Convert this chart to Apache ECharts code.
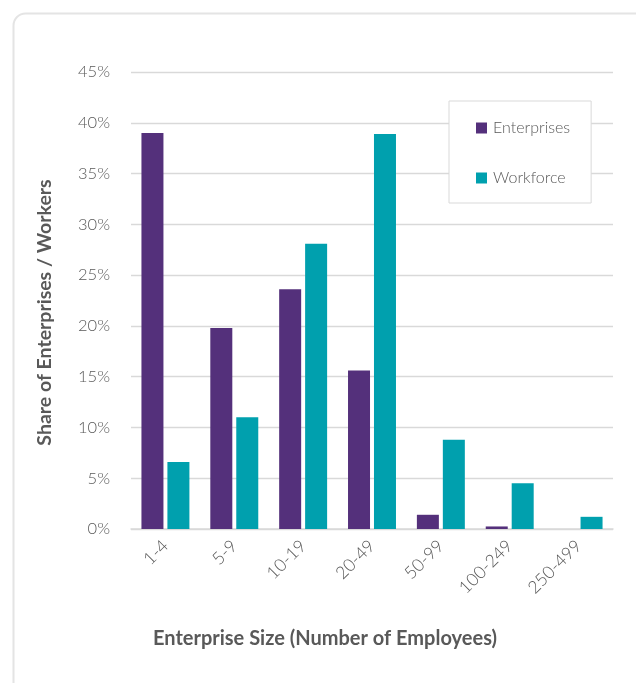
<!DOCTYPE html>
<html>
<head>
<meta charset="utf-8">
<title>Enterprise size distribution</title>
<script src="https://cdn.jsdelivr.net/npm/echarts@6/dist/echarts.min.js"></script>
<style>
  html, body { margin: 0; padding: 0; background: #ffffff; }
  #chart { width: 636px; height: 683px; }
</style>
</head>
<body>
<div id="chart"></div>
<script>
// Enterprise size bands (number of employees)
const sizeBands = ['1-4', '5-9', '10-19', '20-49', '50-99', '100-249', '250-499'];
// Share of enterprises in each band (%)
const enterpriseShare = [39.0, 19.8, 23.6, 15.6, 1.4, 0.25, 0];
// Share of the workforce in each band (%)
const workforceShare = [6.6, 11.0, 28.1, 38.9, 8.8, 4.5, 1.2];
// Value axis ticks (%)
const yMin = 0, yMax = 45, yStep = 5;

const FONT = 'Lato, "Open Sans", sans-serif';
const TEXT = '#595959';
const GRID = '#d9d9d9';

const chart = echarts.init(document.getElementById('chart'), null, { renderer: 'canvas' });

chart.setOption({
  backgroundColor: '#ffffff',
  animation: false,
  textStyle: { fontFamily: FONT },
  graphic: [{
    type: 'rect',
    left: 11, top: 11,
    shape: { width: 680, height: 700, r: 12 },
    style: { fill: 'none', stroke: '#e4e4e4', lineWidth: 2 },
    silent: true,
    z: -1
  }],
  grid: { left: 131, right: 23, top: 72, bottom: 154 },
  legend: {
    orient: 'vertical',
    left: 449, top: 101,
    padding: [19, 21, 17, 27],
    itemGap: 34,
    itemWidth: 11, itemHeight: 11,
    icon: 'rect',
    borderColor: GRID, borderWidth: 1,
    backgroundColor: '#ffffff',
    textStyle: { color: TEXT, fontSize: 16, fontFamily: FONT, fontWeight: 300, padding: [0, 0, 0, 1] },
    data: ['Enterprises', 'Workforce']
  },
  xAxis: {
    type: 'category',
    data: sizeBands,
    name: 'Enterprise Size (Number of Employees)',
    nameLocation: 'middle',
    nameGap: 100,
    nameTextStyle: { color: TEXT, fontSize: 20, fontWeight: 'bold', fontFamily: FONT, padding: [0, 94, 0, 0] },
    axisLine: { lineStyle: { color: GRID, width: 1.5 } },
    axisTick: { show: false },
    axisLabel: { rotate: 45, margin: 14, color: TEXT, fontSize: 17.5, fontWeight: 300, fontFamily: FONT }
  },
  yAxis: {
    type: 'value',
    min: yMin, max: yMax, interval: yStep,
    name: 'Share of Enterprises / Workers',
    nameLocation: 'middle',
    nameGap: 76,
    nameTextStyle: { color: TEXT, fontSize: 19.5, fontWeight: 'bold', fontFamily: FONT, padding: [0, 24, 0, 0] },
    axisLine: { show: false },
    axisTick: { show: false },
    axisLabel: { formatter: '{value}%', margin: 21, color: TEXT, fontSize: 16.5, fontWeight: 300, fontFamily: FONT },
    splitLine: { lineStyle: { color: GRID, width: 1.3 } }
  },
  series: [
    {
      name: 'Enterprises',
      type: 'bar',
      data: enterpriseShare,
      barWidth: 22,
      barGap: '18%',
      itemStyle: { color: '#54307b' }
    },
    {
      name: 'Workforce',
      type: 'bar',
      data: workforceShare,
      barWidth: 22,
      itemStyle: { color: '#00a0ae' }
    }
  ]
});
</script>
</body>
</html>
